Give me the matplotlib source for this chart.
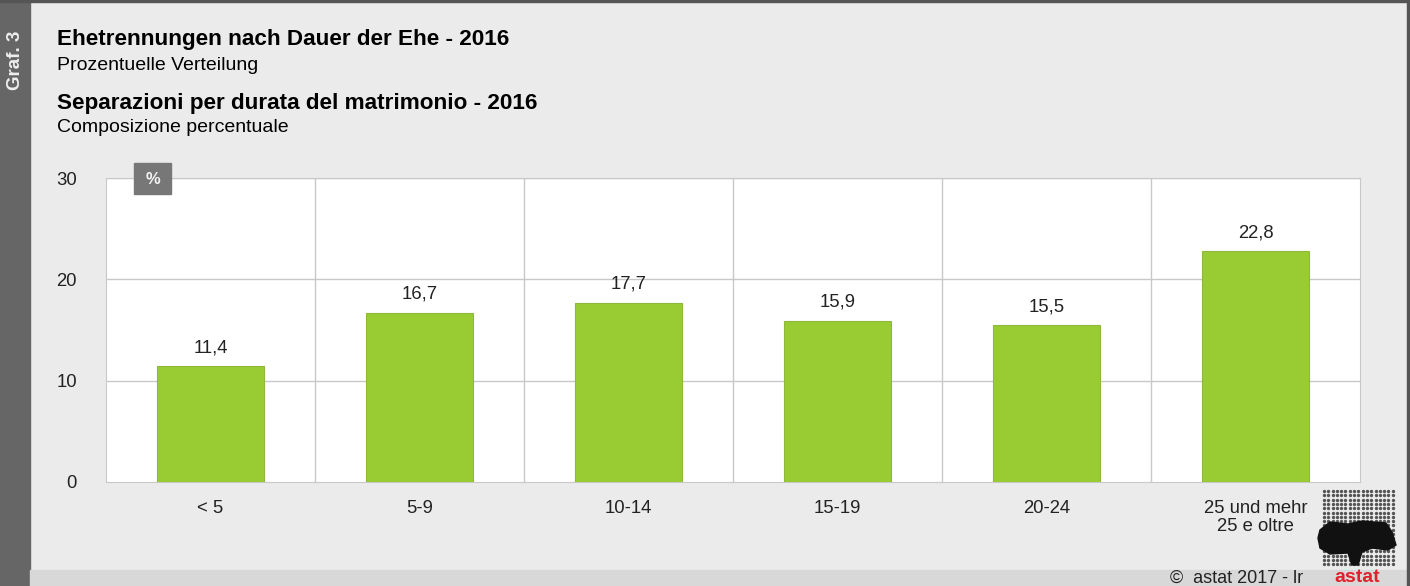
import matplotlib
matplotlib.use("Agg")
import matplotlib.pyplot as plt
from matplotlib.patches import Rectangle, Polygon
import numpy as np

plt.rcParams['font.family'] = ['Liberation Sans', 'DejaVu Sans']

categories = ["< 5", "5-9", "10-14", "15-19", "20-24", "25 und mehr\n25 e oltre"]
values = [11.4, 16.7, 17.7, 15.9, 15.5, 22.8]
value_labels = ["11,4", "16,7", "17,7", "15,9", "15,5", "22,8"]
yticks = [0, 10, 20, 30]

W, H = 1410, 586
fig = plt.figure(figsize=(W / 100, H / 100), dpi=100)
fig.patch.set_facecolor("#ebebeb")

def px(x, y):
    # pixel coords (from top-left) to figure fraction
    return x / W, 1 - y / H

# frame pieces
fig.add_artist(Rectangle((0, 0), 30 / W, 1, transform=fig.transFigure, color="#666666", zorder=0))
fig.add_artist(Rectangle((30 / W, 0), 1 - 30 / W, 16 / H, transform=fig.transFigure, color="#d8d8d8", zorder=0))
fig.add_artist(Rectangle((0, 1 - 2 / H), 1, 2 / H, transform=fig.transFigure, color="#555555", zorder=0))
fig.add_artist(Rectangle((1 - 3 / W, 0), 3 / W, 1, transform=fig.transFigure, color="#555555", zorder=0))

fig.text(*px(15, 60), "Graf. 3", rotation=90, color="#eeeeee", fontsize=13.5,
         fontweight="bold", ha="center", va="center")

fig.text(*px(57, 40), "Ehetrennungen nach Dauer der Ehe - 2016", fontsize=16.2,
         fontweight="bold", va="center")
fig.text(*px(57, 66), "Prozentuelle Verteilung", fontsize=14, va="center")
fig.text(*px(57, 103), "Separazioni per durata del matrimonio - 2016", fontsize=16.2,
         fontweight="bold", va="center")
fig.text(*px(57, 128), "Composizione percentuale", fontsize=14, va="center")

ax = fig.add_axes([106 / W, 1 - 482 / H, 1254 / W, 304 / H])
ax.set_facecolor("white")
x = np.arange(len(categories))
ax.bar(x, values, width=0.512, color="#99cc33", edgecolor="#8fb83a", linewidth=0.8, zorder=3)
for xi, v, lab in zip(x, values, value_labels):
    ax.annotate(lab, (xi, v), xytext=(0, 10), textcoords="offset points",
                ha="center", va="baseline", fontsize=13.3, color="#222222")

ax.set_xlim(-0.5, len(categories) - 0.5)
ax.set_ylim(0, 30)
ax.set_yticks(yticks)
ax.set_xticks(x)
ax.set_xticklabels(categories, fontsize=13.3, color="#222222", linespacing=1.1)
ax.tick_params(axis="y", labelsize=13.3, colors="#222222", length=0, pad=21)
ax.tick_params(axis="x", length=0, pad=13)
for yt in yticks[1:]:
    ax.axhline(yt, color="#c8c8c8", lw=1, zorder=1)
for xb in np.arange(0.5, len(categories) - 0.5, 1):
    ax.axvline(xb, color="#c8c8c8", lw=1, zorder=1)
for s in ax.spines.values():
    s.set_color("#c8c8c8")

# % badge
fig.add_artist(Rectangle(px(134, 194), 37 / W, 31 / H, transform=fig.transFigure,
                         color="#777777", zorder=5))
fig.text(*px(152.5, 179), "%", color="#f4f4f4", fontsize=12, fontweight="bold",
         ha="center", va="center", zorder=6)

fig.text(*px(1303, 578), "©  astat 2017 - lr", fontsize=13, ha="right",
         va="center", color="#222222")
fig.text(*px(1357, 577), "astat", fontsize=14, fontweight="bold", ha="center",
         va="center", color="#e0202a")

# dotted logo
lx, ly = np.meshgrid(np.arange(1324, 1394, 4.3), np.arange(491, 568, 4.3))
fx, fy = px(lx.ravel(), ly.ravel())
fig.add_artist(plt.Line2D(fx, fy, ls="none", marker="o", ms=1.4, color="#555555",
                          transform=fig.transFigure, zorder=3))
blob = [(1320, 530), (1330, 522), (1348, 524), (1362, 521), (1386, 523), (1392, 532),
        (1396, 545), (1388, 550), (1372, 548), (1362, 552), (1358, 565), (1352, 565),
        (1348, 553), (1330, 554), (1320, 548), (1318, 538)]
fig.add_artist(Polygon([px(a, b) for a, b in blob], closed=True, transform=fig.transFigure,
                       color="#111111", zorder=4))

fig.savefig("out.png", dpi=100, facecolor=fig.get_facecolor())
